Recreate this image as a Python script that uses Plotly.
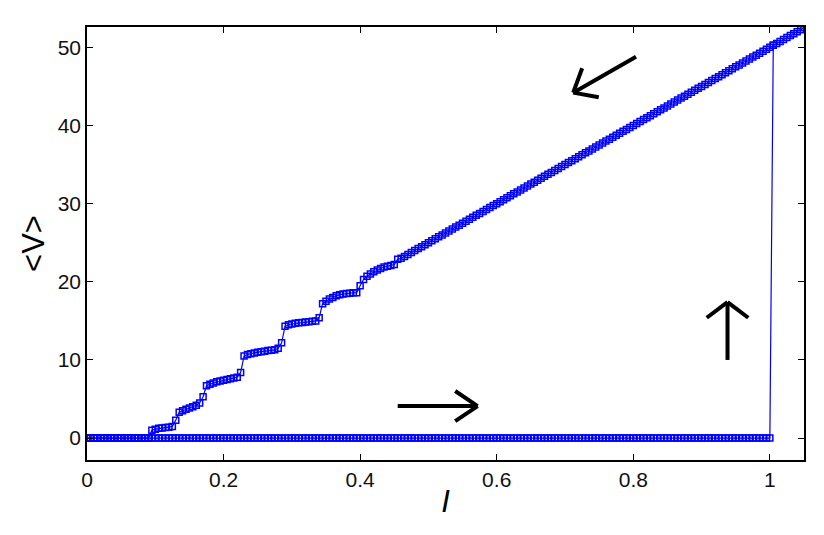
import math
import plotly.graph_objects as go

# current sweep grid (step 0.005), ascending
I_grid = [
    0.000, 0.005, 0.010, 0.015, 0.020, 0.025, 0.030, 0.035, 0.040, 0.045,
    0.050, 0.055, 0.060, 0.065, 0.070, 0.075, 0.080, 0.085, 0.090, 0.095,
    0.100, 0.105, 0.110, 0.115, 0.120, 0.125, 0.130, 0.135, 0.140, 0.145,
    0.150, 0.155, 0.160, 0.165, 0.170, 0.175, 0.180, 0.185, 0.190, 0.195,
    0.200, 0.205, 0.210, 0.215, 0.220, 0.225, 0.230, 0.235, 0.240, 0.245,
    0.250, 0.255, 0.260, 0.265, 0.270, 0.275, 0.280, 0.285, 0.290, 0.295,
    0.300, 0.305, 0.310, 0.315, 0.320, 0.325, 0.330, 0.335, 0.340, 0.345,
    0.350, 0.355, 0.360, 0.365, 0.370, 0.375, 0.380, 0.385, 0.390, 0.395,
    0.400, 0.405, 0.410, 0.415, 0.420, 0.425, 0.430, 0.435, 0.440, 0.445,
    0.450, 0.455, 0.460, 0.465, 0.470, 0.475, 0.480, 0.485, 0.490, 0.495,
    0.500, 0.505, 0.510, 0.515, 0.520, 0.525, 0.530, 0.535, 0.540, 0.545,
    0.550, 0.555, 0.560, 0.565, 0.570, 0.575, 0.580, 0.585, 0.590, 0.595,
    0.600, 0.605, 0.610, 0.615, 0.620, 0.625, 0.630, 0.635, 0.640, 0.645,
    0.650, 0.655, 0.660, 0.665, 0.670, 0.675, 0.680, 0.685, 0.690, 0.695,
    0.700, 0.705, 0.710, 0.715, 0.720, 0.725, 0.730, 0.735, 0.740, 0.745,
    0.750, 0.755, 0.760, 0.765, 0.770, 0.775, 0.780, 0.785, 0.790, 0.795,
    0.800, 0.805, 0.810, 0.815, 0.820, 0.825, 0.830, 0.835, 0.840, 0.845,
    0.850, 0.855, 0.860, 0.865, 0.870, 0.875, 0.880, 0.885, 0.890, 0.895,
    0.900, 0.905, 0.910, 0.915, 0.920, 0.925, 0.930, 0.935, 0.940, 0.945,
    0.950, 0.955, 0.960, 0.965, 0.970, 0.975, 0.980, 0.985, 0.990, 0.995,
    1.000, 1.005, 1.010, 1.015, 1.020, 1.025, 1.030, 1.035, 1.040, 1.045,
    1.050,
]

# sweep up: <V> stays 0 until I = 1, then jumps
V_up = [
    0, 0, 0, 0, 0, 0, 0, 0, 0, 0,
    0, 0, 0, 0, 0, 0, 0, 0, 0, 0,
    0, 0, 0, 0, 0, 0, 0, 0, 0, 0,
    0, 0, 0, 0, 0, 0, 0, 0, 0, 0,
    0, 0, 0, 0, 0, 0, 0, 0, 0, 0,
    0, 0, 0, 0, 0, 0, 0, 0, 0, 0,
    0, 0, 0, 0, 0, 0, 0, 0, 0, 0,
    0, 0, 0, 0, 0, 0, 0, 0, 0, 0,
    0, 0, 0, 0, 0, 0, 0, 0, 0, 0,
    0, 0, 0, 0, 0, 0, 0, 0, 0, 0,
    0, 0, 0, 0, 0, 0, 0, 0, 0, 0,
    0, 0, 0, 0, 0, 0, 0, 0, 0, 0,
    0, 0, 0, 0, 0, 0, 0, 0, 0, 0,
    0, 0, 0, 0, 0, 0, 0, 0, 0, 0,
    0, 0, 0, 0, 0, 0, 0, 0, 0, 0,
    0, 0, 0, 0, 0, 0, 0, 0, 0, 0,
    0, 0, 0, 0, 0, 0, 0, 0, 0, 0,
    0, 0, 0, 0, 0, 0, 0, 0, 0, 0,
    0, 0, 0, 0, 0, 0, 0, 0, 0, 0,
    0, 0, 0, 0, 0, 0, 0, 0, 0, 0,
    0, 50.25,
]

# sweep down: resistive branch with steps below I ~ 0.46
V_down = [
    0, 0, 0, 0, 0, 0, 0, 0, 0, 0,
    0, 0, 0, 0, 0, 0, 0, 0, 0, 1.0,
    1.15, 1.25, 1.3, 1.35, 1.4, 1.5, 2.3, 3.3, 3.5, 3.7,
    3.85, 4.0, 4.2, 4.5, 5.3, 6.7, 6.9, 7.05, 7.2, 7.3,
    7.4, 7.5, 7.6, 7.7, 7.8, 8.4, 10.5, 10.7, 10.8, 10.9,
    11.0, 11.05, 11.1, 11.2, 11.25, 11.3, 11.5, 12.2, 14.3, 14.5,
    14.6, 14.7, 14.75, 14.8, 14.85, 14.9, 14.95, 15.0, 15.4, 17.2,
    17.5, 17.8, 18.0, 18.2, 18.35, 18.45, 18.5, 18.55, 18.6, 18.6,
    19.5, 20.3, 20.7, 21.0, 21.3, 21.5, 21.7, 21.9, 22.0, 22.1,
    22.2, 22.9, 23.0, 23.25, 23.5, 23.75, 24.0, 24.25, 24.5, 24.75,
    25.0, 25.25, 25.5, 25.75, 26.0, 26.25, 26.5, 26.75, 27.0, 27.25,
    27.5, 27.75, 28.0, 28.25, 28.5, 28.75, 29.0, 29.25, 29.5, 29.75,
    30.0, 30.25, 30.5, 30.75, 31.0, 31.25, 31.5, 31.75, 32.0, 32.25,
    32.5, 32.75, 33.0, 33.25, 33.5, 33.75, 34.0, 34.25, 34.5, 34.75,
    35.0, 35.25, 35.5, 35.75, 36.0, 36.25, 36.5, 36.75, 37.0, 37.25,
    37.5, 37.75, 38.0, 38.25, 38.5, 38.75, 39.0, 39.25, 39.5, 39.75,
    40.0, 40.25, 40.5, 40.75, 41.0, 41.25, 41.5, 41.75, 42.0, 42.25,
    42.5, 42.75, 43.0, 43.25, 43.5, 43.75, 44.0, 44.25, 44.5, 44.75,
    45.0, 45.25, 45.5, 45.75, 46.0, 46.25, 46.5, 46.75, 47.0, 47.25,
    47.5, 47.75, 48.0, 48.25, 48.5, 48.75, 49.0, 49.25, 49.5, 49.75,
    50.0, 50.25, 50.5, 50.75, 51.0, 51.25, 51.5, 51.75, 52.0, 52.25,
    52.5,
]

x_ticks = [0, 0.2, 0.4, 0.6, 0.8, 1]
x_tick_labels = ["0", "0.2", "0.4", "0.6", "0.8", "1"]
y_ticks = [0, 10, 20, 30, 40, 50]

W, H = 824, 535
# page body has an 8px margin, so the figure is shifted by 8px
ML, MR, MT, MB = 79, 28, 19, 83
XR = [0, 1.05]
YR = [-2.8, 52.6]
BLUE = "#0000ff"

fig = go.Figure()
style = dict(mode="lines+markers",
             line=dict(color=BLUE, width=1.2),
             marker=dict(symbol="square-open", size=6, color=BLUE,
                         line=dict(width=1.5, color=BLUE)),
             showlegend=False)
fig.add_trace(go.Scatter(x=I_grid[:len(V_up)], y=V_up, **style))
fig.add_trace(go.Scatter(x=I_grid[::-1], y=V_down[::-1], **style))

# hand-drawn style arrows (shaft + open chevron head)
px_x = (W - ML - MR) / (XR[1] - XR[0])
px_y = (H - MT - MB) / (YR[1] - YR[0])


def arrow(x0, y0, x1, y1, ang=38, L=26):
    shapes = [dict(type="line", xref="x", yref="y", x0=x0, y0=y0, x1=x1, y1=y1,
                   line=dict(color="black", width=4))]
    # back direction in pixel space (y up)
    dx, dy = (x0 - x1) * px_x, (y0 - y1) * px_y
    n = math.hypot(dx, dy)
    dx, dy = dx / n, dy / n
    for s in (1, -1):
        a = math.radians(ang * s)
        ux = dx * math.cos(a) - dy * math.sin(a)
        uy = dx * math.sin(a) + dy * math.cos(a)
        shapes.append(dict(type="line", xref="x", yref="y", x0=x1, y0=y1,
                           x1=x1 + ux * L / px_x, y1=y1 + uy * L / px_y,
                           line=dict(color="black", width=4)))
    return shapes


shapes = []
shapes += arrow(0.804, 48.8, 0.712, 44.2, ang=40, L=26)
shapes += arrow(0.455, 4.1, 0.572, 4.1, ang=34, L=27)
shapes += arrow(0.938, 10.0, 0.938, 17.4, ang=53, L=26)

axis = dict(showline=True, linecolor="black", linewidth=1.5, mirror="ticks",
            ticks="inside", ticklen=6, tickwidth=1, tickcolor="black",
            showgrid=False, zeroline=False,
            tickfont=dict(family="Liberation Sans, Arial", size=21, color="#111"))

fig.update_layout(
    width=W, height=H,
    margin=dict(l=ML, r=MR, t=MT, b=MB),
    plot_bgcolor="white", paper_bgcolor="white",
    shapes=shapes,
    xaxis=dict(range=XR, tickvals=x_ticks, ticktext=x_tick_labels,
               title=dict(text="<i>I</i>", standoff=0,
                          font=dict(family="Liberation Sans, Arial", size=31, color="black")),
               **axis),
    yaxis=dict(range=YR, tickvals=y_ticks,
               title=dict(text="&lt;V&gt;", standoff=4,
                          font=dict(family="Liberation Sans, Arial", size=31, color="black")),
               **axis),
)

fig.write_html("out.html")
